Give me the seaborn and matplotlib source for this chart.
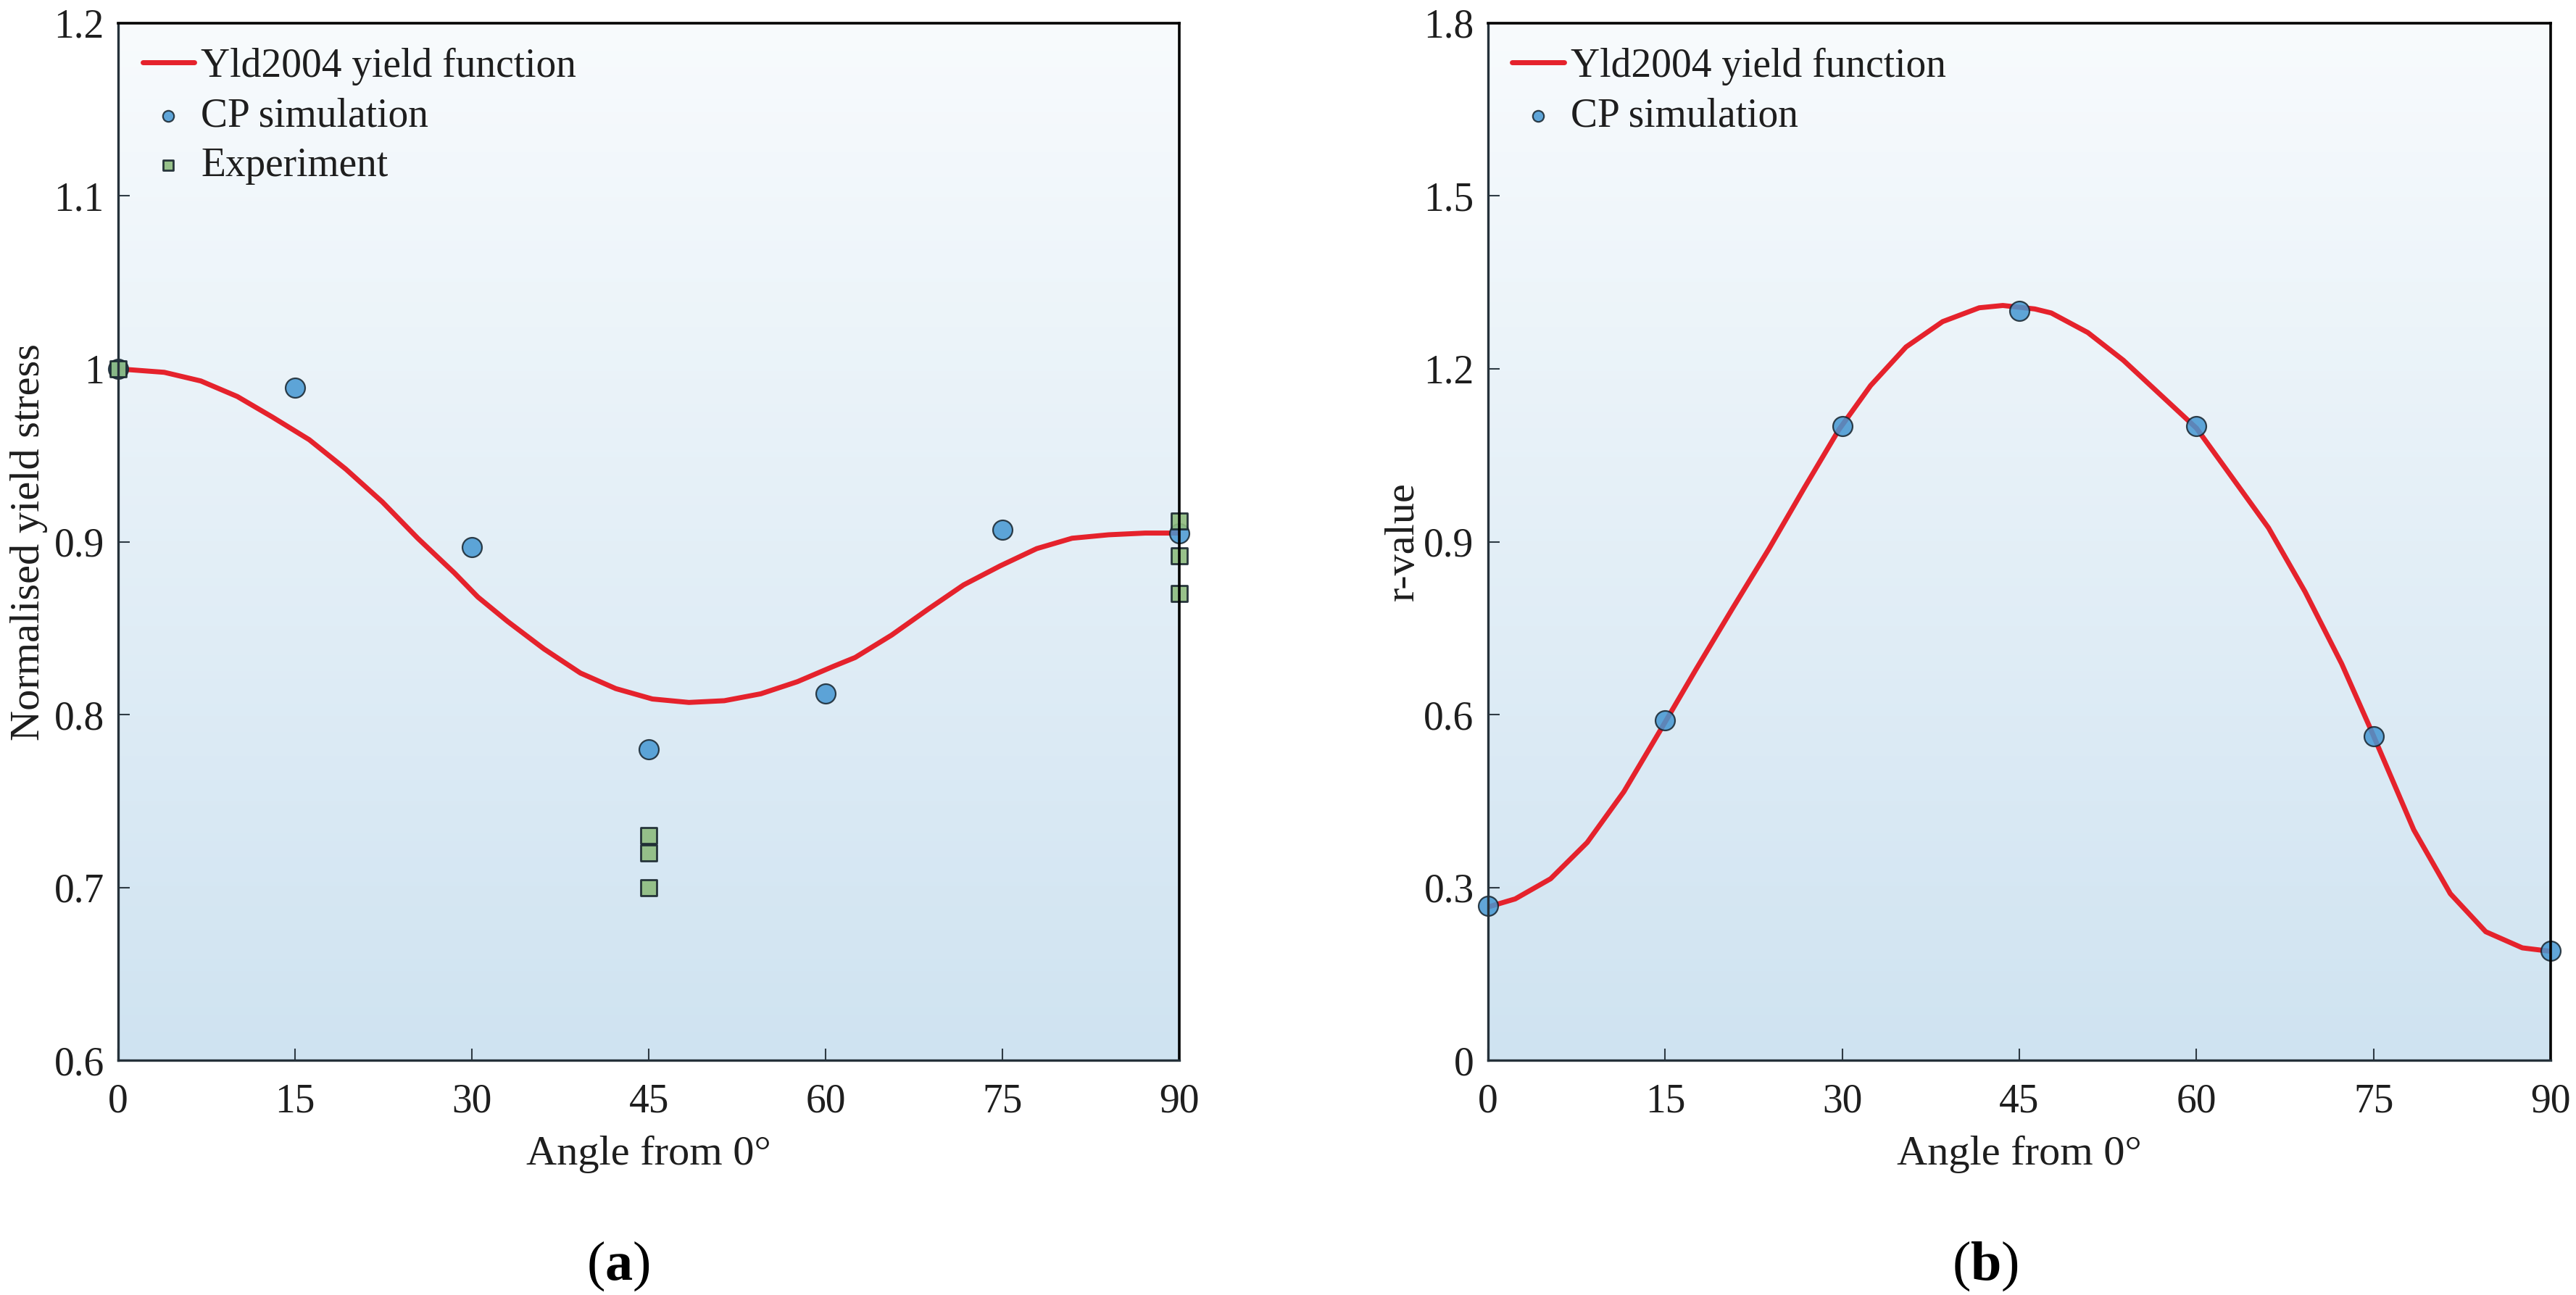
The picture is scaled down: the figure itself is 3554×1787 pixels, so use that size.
import numpy as np
import matplotlib
matplotlib.use('Agg')
import matplotlib.pyplot as plt
from matplotlib.colors import LinearSegmentedColormap
from matplotlib.ticker import FuncFormatter
import seaborn as sns

# (a) normalised yield stress
yld_angle_a = [0.0, 3.9, 7.0, 10.1, 13.1, 16.2, 19.3, 22.4, 25.4, 28.5, 30.5,
               33.0, 36.1, 39.2, 42.2, 45.3, 48.4, 51.4, 54.5, 57.6, 60.7,
               62.5, 65.6, 68.7, 71.7, 74.8, 77.9, 80.9, 84.0, 87.1, 90.0]
yld_stress = [1.000, 0.998, 0.993, 0.984, 0.972, 0.959, 0.942, 0.923, 0.902,
              0.882, 0.868, 0.854, 0.838, 0.824, 0.815, 0.809, 0.807, 0.808,
              0.812, 0.819, 0.828, 0.833, 0.846, 0.861, 0.875, 0.886, 0.896,
              0.902, 0.904, 0.905, 0.905]
cp_angle = [0, 15, 30, 45, 60, 75, 90]
cp_stress = [1.000, 0.989, 0.897, 0.780, 0.812, 0.907, 0.905]
exp_angle = [0, 45, 45, 45, 90, 90, 90]
exp_stress = [1.000, 0.730, 0.720, 0.700, 0.912, 0.892, 0.870]

# (b) r-value
yld_angle_b = [0.0, 2.3, 5.3, 8.4, 11.5, 14.6, 17.6, 20.7, 23.8, 26.8, 29.7,
               32.4, 35.4, 38.5, 41.6, 43.6, 46.3, 47.7, 50.8, 53.8, 56.9,
               60.0, 63.0, 66.1, 69.2, 72.3, 74.7, 78.4, 81.5, 84.5, 87.6, 90.0]
yld_rvalue = [0.266, 0.280, 0.315, 0.378, 0.466, 0.573, 0.678, 0.784, 0.888,
              0.994, 1.094, 1.171, 1.238, 1.282, 1.306, 1.310, 1.304, 1.297,
              1.263, 1.215, 1.156, 1.097, 1.012, 0.924, 0.813, 0.688, 0.577,
              0.400, 0.289, 0.223, 0.195, 0.189]
cp_rvalue = [0.268, 0.590, 1.100, 1.300, 1.100, 0.562, 0.190]

x_ticks = [0, 15, 30, 45, 60, 75, 90]

RED = '#e5222c'
BLUE = '#4597d2'
GREEN = '#8dbb7e'
EDGE = '#16232c'
TXT = '#1e1e1e'
FONT = 'Liberation Serif'

sns.set_theme(style='white')
plt.rcParams['font.family'] = [FONT, 'DejaVu Serif']
plt.rcParams['font.serif'] = [FONT, 'DejaVu Serif']
plt.rcParams['mathtext.fontset'] = 'custom'
plt.rcParams['mathtext.rm'] = FONT
plt.rcParams['mathtext.bf'] = FONT + ':bold'

bg_cmap = LinearSegmentedColormap.from_list('bg', ['#f8fbfd', '#cfe3f1'])


def style_axes(ax, ylim, yticks, ylabel, ylabelpad):
    # gradient background of the plot area
    ax.imshow(np.linspace(0, 1, 256).reshape(-1, 1), cmap=bg_cmap,
              aspect='auto', extent=(0, 90, ylim[0], ylim[1]),
              origin='upper', zorder=0)
    ax.set_xlim(0, 90)
    ax.set_ylim(*ylim)
    ax.set_xticks(x_ticks)
    ax.set_yticks(yticks)
    ax.yaxis.set_major_formatter(FuncFormatter(lambda v, p: f'{v:g}'))
    ax.tick_params(direction='in', length=11.5, width=1.5, color='#2f3b44',
                   left=True, bottom=True, top=False, right=False,
                   labelsize=40, labelcolor=TXT)
    ax.tick_params(axis='x', pad=23)
    ax.tick_params(axis='y', pad=14)
    for lab in ax.get_xticklabels() + ax.get_yticklabels():
        lab.set_fontfamily(FONT)
    for side in ['top', 'right']:
        ax.spines[side].set_color('black')
        ax.spines[side].set_linewidth(2.6)
    for side in ['left', 'bottom']:
        ax.spines[side].set_color('#25313a')
        ax.spines[side].set_linewidth(2.4)
    for s in ax.spines.values():
        s.set_zorder(6)
    ax.set_xlabel('Angle from 0°', fontsize=42, color=TXT, labelpad=14,
                  fontfamily=FONT)
    ax.set_ylabel(ylabel, fontsize=42, color=TXT, labelpad=ylabelpad,
                  fontfamily=FONT)
    ax.legend(loc='upper left', bbox_to_anchor=(0, 1), borderaxespad=0,
              frameon=False, prop={'family': FONT, 'size': 40},
              handlelength=1.29, handletextpad=0.16, labelspacing=0.3,
              borderpad=0.6, markerscale=0.57, labelcolor=TXT)


fig = plt.figure(figsize=(35.55, 17.87), dpi=100)
ax_a = fig.add_axes([0.0459, 0.1813, 0.4118, 0.8008])
ax_b = fig.add_axes([0.5775, 0.1813, 0.4124, 0.8008])

# panel (a)
sns.lineplot(x=yld_angle_a, y=yld_stress, ax=ax_a, color=RED, linewidth=5,
             estimator=None, sort=False, label='Yld2004 yield function',
             zorder=2, solid_joinstyle='round')
sns.scatterplot(x=cp_angle, y=cp_stress, ax=ax_a, s=376, marker='o',
                color=BLUE, edgecolor=EDGE, linewidth=1.6, alpha=0.85,
                label='CP simulation', zorder=4, clip_on=False)
sns.scatterplot(x=exp_angle, y=exp_stress, ax=ax_a, s=272, marker='s',
                color=GREEN, edgecolor=EDGE, linewidth=2, alpha=0.9,
                label='Experiment', zorder=5, clip_on=False)
style_axes(ax_a, (0.6, 1.2), [0.6, 0.7, 0.8, 0.9, 1.0, 1.1, 1.2],
           'Normalised yield stress', 6)

# panel (b)
sns.lineplot(x=yld_angle_b, y=yld_rvalue, ax=ax_b, color=RED, linewidth=5,
             estimator=None, sort=False, label='Yld2004 yield function',
             zorder=2, solid_joinstyle='round')
sns.scatterplot(x=cp_angle, y=cp_rvalue, ax=ax_b, s=376, marker='o',
                color=BLUE, edgecolor=EDGE, linewidth=1.6, alpha=0.85,
                label='CP simulation', zorder=4, clip_on=False)
style_axes(ax_b, (0, 1.8), [0, 0.3, 0.6, 0.9, 1.2, 1.5, 1.8], 'r-value', 2)

fig.text(0.240, 0.0224, r'($\mathbf{a}$)', fontsize=55, ha='center',
         va='center', color='black')
fig.text(0.7705, 0.0224, r'($\mathbf{b}$)', fontsize=55, ha='center',
         va='center', color='black')

fig.savefig('out.png', dpi=100)
plt.close(fig)
